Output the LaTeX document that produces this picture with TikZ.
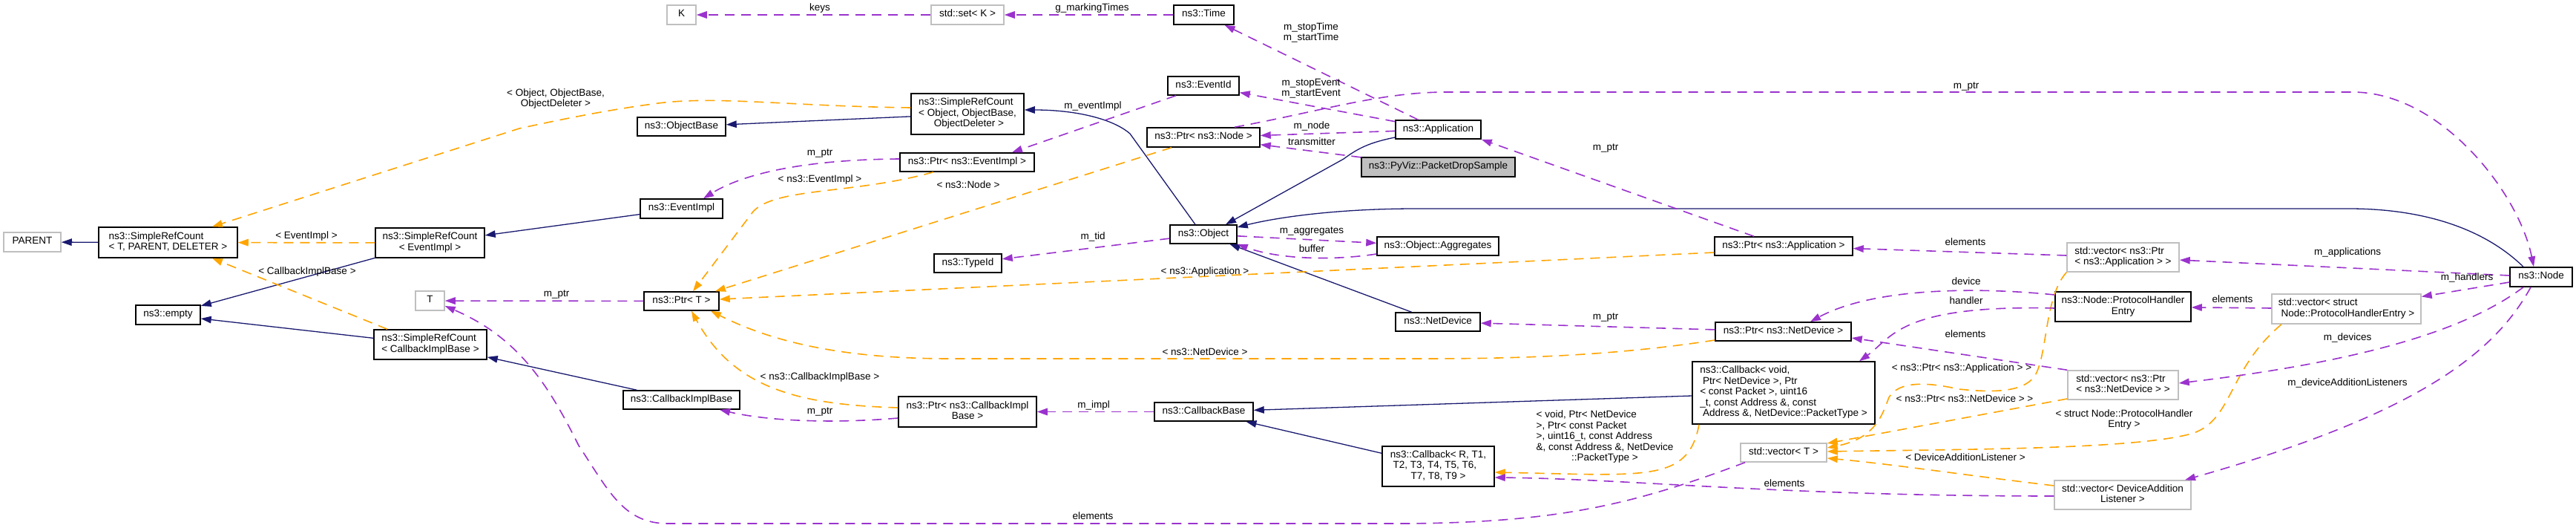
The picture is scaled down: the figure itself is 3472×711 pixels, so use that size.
\documentclass[tikz,border=0pt]{standalone}
\usepackage{fontspec}
\setmainfont{Liberation Sans}
\usetikzlibrary{arrows.meta}
\definecolor{navyc}{HTML}{191970}
\definecolor{purc}{HTML}{9A32CD}
\definecolor{orc}{HTML}{FFA500}
\definecolor{grc}{HTML}{BFBFBF}
\newcommand\dxfont{\fontsize{13.5}{14.5}\selectfont}
\newcommand\dxl[2]{\begin{tabular}{@{}l@{}}#1\\\multicolumn{1}{@{}c@{}}{#2}\end{tabular}}
\newcommand\dxc[1]{\begin{tabular}{@{}c@{}}#1\end{tabular}}
\newcommand\mkbox[7]{%
  \pgfmathsetmacro\bxX{(#3+#5)/2}\pgfmathsetmacro\bxY{(#4+#6)/2}%
  \pgfmathsetmacro\bxW{#5-#3}\pgfmathsetmacro\bxH{#6-#4}%
  \node[#1, minimum width=\bxW pt, minimum height=\bxH pt] (#2) at (\bxX,\bxY) {#7};}
\begin{document}
\begin{tikzpicture}[x=1pt,y=-1pt,
  cls/.style={draw=black, fill=white, line width=1.5pt, inner sep=0pt, font=\dxfont, execute at begin node=\strut},
  ext/.style={cls, draw=grc},
  lbl/.style={inner sep=0pt, font=\dxfont, execute at begin node=\strut},
  inh/.style={draw=navyc, line width=1.3pt, -{Triangle[length=14pt,width=9.5pt]}},
  use/.style={draw=purc, line width=1.6pt, dash pattern=on 13pt off 9pt, -{Triangle[length=14pt,width=9.5pt]}},
  tmpl/.style={draw=orc, line width=1.6pt, dash pattern=on 13pt off 9pt, -{Triangle[length=14pt,width=9.5pt]}}]
\fill[white] (0,0) rectangle (3472,711);
\useasboundingbox (0,0) rectangle (3472,711);

% ---------- nodes ----------
\mkbox{ext}{parent}{5}{313}{82}{339}{PARENT}
\mkbox{cls}{srcT}{133}{306}{320}{347}{\dxl{ns3::SimpleRefCount}{< T, PARENT, DELETER >}}
\mkbox{cls}{empty}{183}{411}{270}{437}{ns3::empty}
\mkbox{cls}{srcE}{506}{307}{653}{347}{\dxl{ns3::SimpleRefCount}{< EventImpl >}}
\mkbox{cls}{srcCIB}{504}{444}{656}{484}{\dxl{ns3::SimpleRefCount}{< CallbackImplBase >}}
\mkbox{ext}{tnode}{560}{392}{599}{418}{T}
\mkbox{cls}{objbase}{859}{158}{978}{183}{ns3::ObjectBase}
\mkbox{cls}{eventimpl}{863}{268}{974}{294}{ns3::EventImpl}
\mkbox{cls}{ptrT}{868}{393}{969}{418}{ns3::Ptr< T >}
\mkbox{cls}{cib}{840}{526}{997}{551}{ns3::CallbackImplBase}
\mkbox{ext}{knode}{899}{7}{938}{33}{K}
\mkbox{ext}{setK}{1255}{7}{1353}{33}{std::set< K >}
\mkbox{cls}{srcO}{1228}{126}{1380}{181}{\dxl{ns3::SimpleRefCount\\< Object, ObjectBase,}{\ ObjectDeleter >}}
\mkbox{cls}{ptrEI}{1213}{206}{1394}{231}{ns3::Ptr< ns3::EventImpl >}
\mkbox{cls}{typeid}{1259}{342}{1350}{367}{ns3::TypeId}
\mkbox{cls}{ptrCIB}{1211}{534}{1397}{575}{\dxl{ns3::Ptr< ns3::CallbackImpl}{Base >}}
\mkbox{cls}{time}{1582}{7}{1663}{33}{ns3::Time}
\mkbox{cls}{eventid}{1574}{103}{1670}{128}{ns3::EventId}
\mkbox{cls}{ptrNode}{1546}{172}{1698}{198}{ns3::Ptr< ns3::Node >}
\mkbox{cls}{app}{1881}{162}{1996}{187}{ns3::Application}
\mkbox{cls,fill=grc}{pds}{1835}{212}{2042}{238}{ns3::PyViz::PacketDropSample}
\mkbox{cls}{object}{1577}{303}{1667}{328}{ns3::Object}
\mkbox{cls}{agg}{1856}{319}{2020}{344}{ns3::Object::Aggregates}
\mkbox{cls}{netdev}{1881}{421}{1995}{446}{ns3::NetDevice}
\mkbox{cls}{cbase}{1556}{542}{1689}{567}{ns3::CallbackBase}
\mkbox{cls}{cbR}{1863}{601}{2014}{655}{\dxl{ns3::Callback< R, T1,\\\ T2, T3, T4, T5, T6,}{T7, T8, T9 >}}
\mkbox{cls}{ptrApp}{2311}{319}{2497}{344}{ns3::Ptr< ns3::Application >}
\mkbox{cls}{ptrND}{2312}{434}{2495}{459}{ns3::Ptr< ns3::NetDevice >}
\mkbox{cls}{cbV}{2281}{487}{2527}{571}{\dxl{ns3::Callback< void,\\\ Ptr< NetDevice >, Ptr\\< const Packet >, uint16\\\_t, const Address \&, const}{\ Address \&, NetDevice::PacketType >}}
\mkbox{ext}{vecT}{2346}{597}{2462}{622}{std::vector< T >}
\mkbox{ext}{vecApp}{2786}{327}{2937}{366}{\dxl{std::vector< ns3::Ptr}{< ns3::Application > >}}
\mkbox{cls}{phe}{2770}{393}{2953}{433}{\dxl{ns3::Node::ProtocolHandler}{Entry}}
\mkbox{ext}{vecPHE}{3062}{396}{3263}{436}{\dxl{std::vector< struct}{\ Node::ProtocolHandlerEntry >}}
\mkbox{ext}{vecND}{2787}{499}{2936}{538}{\dxl{std::vector< ns3::Ptr}{< ns3::NetDevice > >}}
\mkbox{ext}{vecDAL}{2769}{647}{2953}{686}{\dxl{std::vector< DeviceAddition}{Listener >}}
\mkbox{cls}{nsnode}{3383}{360}{3467}{386}{ns3::Node}

% ---------- inheritance ----------
\draw[inh] (srcT) -- (parent);
\draw[inh] (srcE) -- (empty);
\draw[inh] (srcCIB) -- (empty);
\draw[inh] (eventimpl) -- (srcE);
\draw[inh] (cib) -- (srcCIB);
\draw[inh] (srcO) -- (objbase);
\draw[inh] (object.north -| 1611,0) -- (1523,180) .. controls (1500,160) and (1450,148) .. (srcO.east |- 0,148);
\draw[inh] (app.west |- 0,185) .. controls (1845,192) and (1830,200) .. (1811,214) -- (object.north -| 1652,0);
\draw[inh] (nsnode.north -| 3401,0) .. controls (3340,300) and (3250,281) .. (3166,281) -- (1909,281) .. controls (1800,281) and (1720,293) .. (object.east |- 0,306);
\draw[inh] (netdev) -- (object);
\draw[inh] (cbV) -- (cbase);
\draw[inh] (cbR) -- (cbase);

% ---------- template instances ----------
\draw[tmpl] (srcO.west |- 0,145) .. controls (1060,143) and (960,128) .. (880,140) .. controls (820,148) and (760,160) .. (700,173) -- (srcT.north -| 286,0);
\draw[tmpl] (srcE) -- (srcT);
\draw[tmpl] (srcCIB.north -| 522,0) -- (srcT.south -| 286,0);
\draw[tmpl] (ptrEI.south -| 1258,0) .. controls (1150,262) and (1045,252) .. (1015,285) -- (ptrT.north -| 934,0);
\draw[tmpl] (ptrNode.south -| 1579,0) -- (ptrT.north -| 964,0);
\draw[tmpl] (ptrApp.west |- 0,340) -- (ptrT.east |- 0,403);
\draw[tmpl] (ptrND.west |- 0,458) .. controls (2150,483) and (2000,483) .. (1900,483) -- (1280,483) .. controls (1120,483) and (1030,455) .. (ptrT.south -| 958,0);
\draw[tmpl] (ptrCIB.west |- 0,549) .. controls (1080,545) and (990,525) .. (ptrT.south -| 932,0);
\draw[tmpl] (cbV.south -| 2290,0) .. controls (2275,650) and (2220,640) .. (cbR.east |- 0,636);
\draw[tmpl] (vecPHE.south -| 3075,0) .. controls (3000,500) and (3010,570) .. (2950,585) .. controls (2870,605) and (2650,605) .. (vecT.east |- 0,608);
\draw[tmpl] (vecApp.south west) .. controls (2755,400) and (2760,480) .. (2742,507) .. controls (2725,530) and (2680,528) .. (2640,524) .. controls (2600,515) and (2560,512) .. (2546,535) .. controls (2538,555) and (2530,590) .. (vecT.east |- 0,603);
\draw[tmpl] (vecND.west |- 0,537) -- (vecT.east |- 0,597);
\draw[tmpl] (vecDAL.west |- 0,654) .. controls (2650,640) and (2550,625) .. (vecT.east |- 0,617);

% ---------- usage ----------
\draw[use] (setK) -- (knode);
\draw[use] (time) -- (setK);
\draw[use] (app) -- (time);
\draw[use] (app) -- (eventid);
\draw[use] (app) -- (ptrNode);
\draw[use] (pds) -- (ptrNode);
\draw[use] (ptrNode.north -| 1664,0) .. controls (1780,150) and (1860,124) .. (1950,124) -- (3171,124) .. controls (3290,124) and (3395,260) .. (nsnode.north -| 3415,0);
\draw[use] (ptrEI.west |- 0,214) .. controls (1080,215) and (1000,235) .. (eventimpl.north -| 948,0);
\draw[use] (eventid.south -| 1585,0) -- (ptrEI.north -| 1364,0);
\draw[use] (object) -- (typeid);
\draw[use] (object) -- (agg);
\draw[use] (agg.west |- 0,342) .. controls (1790,352) and (1720,348) .. (object.south east);
\draw[use] (ptrApp.north -| 2364,0) -- (app.south east);
\draw[use] (vecApp) -- (ptrApp);
\draw[use] (nsnode) -- (vecApp);
\draw[use] (nsnode) -- (vecPHE);
\draw[use] (vecPHE) -- (phe);
\draw[use] (nsnode.south -| 3401,0) .. controls (3330,440) and (3200,485) .. (vecND.east |- 0,516);
\draw[use] (nsnode.south -| 3411,0) .. controls (3360,480) and (3250,560) .. (vecDAL.north -| 2945,0);
\draw[use] (ptrND) -- (netdev);
\draw[use] (phe.west |- 0,397) .. controls (2650,385) and (2520,390) .. (ptrND.north -| 2440,0);
\draw[use] (phe.west |- 0,415) .. controls (2560,410) and (2550,455) .. (cbV.north -| 2506,0);
\draw[use] (vecND.north west) -- (ptrND.east |- 0,455);
\draw[use] (vecT.south -| 2352,0) .. controls (2200,680) and (2100,703) .. (1900,705) -- (900,705) .. controls (840,705) and (820,660) .. (780,600) .. controls (740,520) and (700,455) .. (tnode.east |- 0,412);
\draw[use] (vecDAL.west |- 0,668) .. controls (2400,668) and (2200,645) .. (cbR.east |- 0,643);
\draw[use] (ptrT) -- (tnode);
\draw[use] (cbase) -- (ptrCIB);
\draw[use] (ptrCIB.west |- 0,563) .. controls (1130,570) and (1040,568) .. (cib.south -| 970,0);

% ---------- labels ----------
\node[lbl] (l01) at (1105,12) {keys};
\node[lbl] (l02) at (1472,12) {g\_markingTimes};
\node[lbl] (l03) at (1767,44.5) {\dxc{m\_stopTime\\m\_startTime}};
\node[lbl] (l04) at (1767,119.5) {\dxc{m\_stopEvent\\m\_startEvent}};
\node[lbl] (l05) at (1768,171) {m\_node};
\node[lbl] (l06) at (1768,193) {transmitter};
\node[lbl] (l07) at (1473,144) {m\_eventImpl};
\node[lbl] (l08) at (1473,320) {m\_tid};
\node[lbl] (l09) at (1768,312) {m\_aggregates};
\node[lbl] (l10) at (1768,337) {buffer};
\node[lbl] (l11) at (749,133.5) {\dxc{< Object, ObjectBase,\\ObjectDeleter >}};
\node[lbl] (l12) at (1105,207) {m\_ptr};
\node[lbl] (l13) at (1105,243) {< ns3::EventImpl >};
\node[lbl] (l14) at (1305,251) {< ns3::Node >};
\node[lbl] (l15) at (413,319) {< EventImpl >};
\node[lbl] (l16) at (414,367) {< CallbackImplBase >};
\node[lbl] (l17) at (750,397) {m\_ptr};
\node[lbl] (l18) at (1105,509) {< ns3::CallbackImplBase >};
\node[lbl] (l19) at (1105,555) {m\_ptr};
\node[lbl] (l20) at (1624,367) {< ns3::Application >};
\node[lbl] (l21) at (1624,476) {< ns3::NetDevice >};
\node[lbl] (l22) at (1474,547) {m\_impl};
\node[lbl] (l23) at (1473,697) {elements};
\node[lbl] (l24) at (2650,117) {m\_ptr};
\node[lbl] (l25) at (2164,200) {m\_ptr};
\node[lbl] (l26) at (2649,328) {elements};
\node[lbl] (l27) at (2650,381) {device};
\node[lbl] (l28) at (2650,407) {handler};
\node[lbl] (l29) at (2164,428) {m\_ptr};
\node[lbl] (l30) at (2649,452) {elements};
\node[lbl] (l31) at (2644,497) {< ns3::Ptr< ns3::Application > >};
\node[lbl] (l32) at (2648,539) {< ns3::Ptr< ns3::NetDevice > >};
\node[lbl] (l33) at (2649,618) {< DeviceAdditionListener >};
\node[lbl] (l34) at (2405,653) {elements};
\node[lbl] (l35) at (2163,589) {\dxl{< void, Ptr< NetDevice\\>, Ptr< const Packet\\>, uint16\_t, const Address\\\&, const Address \&, NetDevice}{::PacketType >}};
\node[lbl] (l36) at (3164,341) {m\_applications};
\node[lbl] (l37) at (3325,375) {m\_handlers};
\node[lbl] (l38) at (3009,405) {elements};
\node[lbl] (l39) at (3164,456) {m\_devices};
\node[lbl] (l40) at (3164,517) {m\_deviceAdditionListeners};
\node[lbl] (l41) at (2863,565.5) {\dxc{< struct Node::ProtocolHandler\\Entry >}};
\end{tikzpicture}
\end{document}
